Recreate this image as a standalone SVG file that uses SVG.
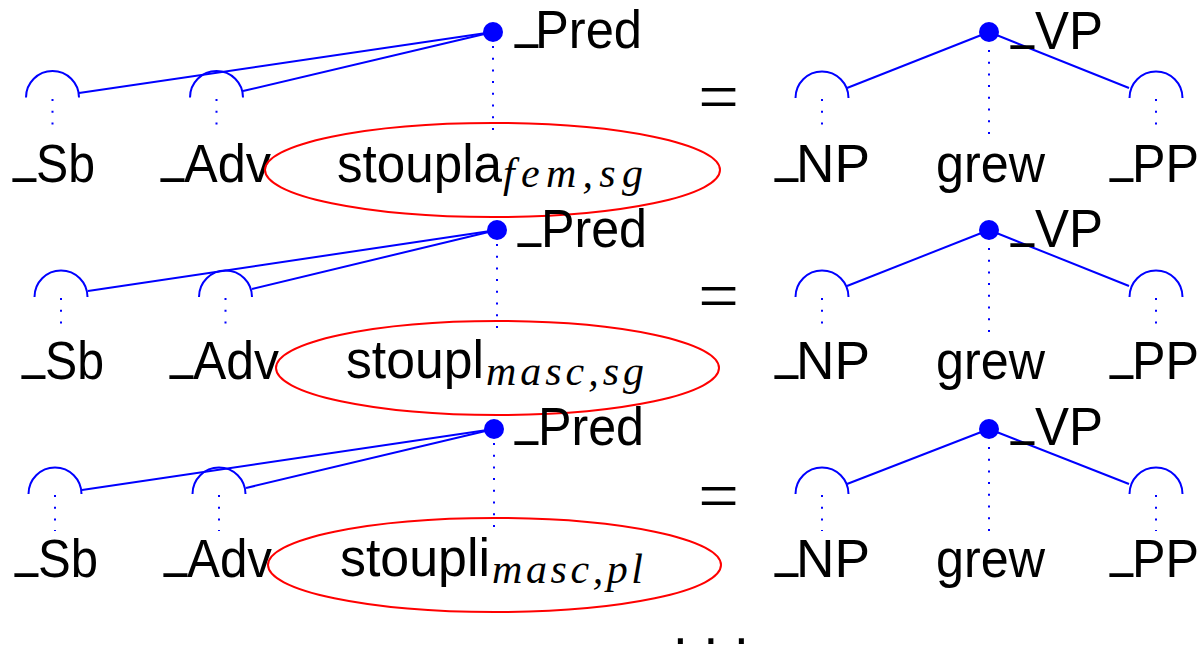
<svg xmlns="http://www.w3.org/2000/svg" width="1204" height="645" viewBox="0 0 1204 645">
<style>
.t{font-family:"Liberation Sans",Arial,sans-serif;font-size:53px;fill:#000}
.u{font-size:60px}
.s{font-family:"Liberation Serif","Times New Roman",serif;font-style:italic;font-size:42px;fill:#000}
.eq{font-family:"Liberation Serif","Times New Roman",serif;font-size:72px;fill:#000;text-anchor:middle}
.arc{fill:none;stroke:#0000ff;stroke-width:2}
.dot{fill:#0000ff}
.edge{stroke:#0000ff;stroke-width:2;fill:none}
.dots{stroke:#0000ff;stroke-width:2;stroke-dasharray:2 9.7;fill:none}
.ell{fill:none;stroke:#ff0000;stroke-width:2}
</style>
<rect width="1204" height="645" fill="#fff"/>
<g id="connectors">
  <line class="edge" x1="79" y1="93" x2="493" y2="32"/>
  <line class="edge" x1="243" y1="91" x2="493" y2="32"/>
  <line class="edge" x1="847" y1="88" x2="989" y2="32"/>
  <line class="edge" x1="989" y1="32" x2="1129" y2="88"/>
  <line class="dots" x1="52.5" y1="99" x2="52.5" y2="134"/>
  <line class="dots" x1="216.5" y1="99" x2="216.5" y2="134"/>
  <line class="dots" x1="493" y1="46" x2="493" y2="134"/>
  <line class="dots" x1="822" y1="99" x2="822" y2="134"/>
  <line class="dots" x1="989" y1="50" x2="989" y2="134"/>
  <line class="dots" x1="1156" y1="99" x2="1156" y2="134"/>

  <line class="edge" x1="88" y1="291" x2="497" y2="230"/>
  <line class="edge" x1="252" y1="289" x2="497" y2="230"/>
  <line class="edge" x1="847" y1="286" x2="989" y2="230"/>
  <line class="edge" x1="989" y1="230" x2="1129" y2="286"/>
  <line class="dots" x1="61" y1="298" x2="61" y2="333"/>
  <line class="dots" x1="225.5" y1="298" x2="225.5" y2="333"/>
  <line class="dots" x1="497" y1="244" x2="497" y2="333"/>
  <line class="dots" x1="822" y1="298" x2="822" y2="333"/>
  <line class="dots" x1="989" y1="248" x2="989" y2="333"/>
  <line class="dots" x1="1156" y1="298" x2="1156" y2="333"/>

  <line class="edge" x1="82" y1="490" x2="494" y2="429"/>
  <line class="edge" x1="246" y1="488" x2="494" y2="429"/>
  <line class="edge" x1="847" y1="484" x2="989" y2="429"/>
  <line class="edge" x1="989" y1="429" x2="1129" y2="484"/>
  <line class="dots" x1="55" y1="495" x2="55" y2="531"/>
  <line class="dots" x1="219" y1="495" x2="219" y2="531"/>
  <line class="dots" x1="494" y1="443" x2="494" y2="531"/>
  <line class="dots" x1="822" y1="495" x2="822" y2="531"/>
  <line class="dots" x1="989" y1="447" x2="989" y2="531"/>
  <line class="dots" x1="1156" y1="495" x2="1156" y2="531"/>
</g>

<!-- Row 1 -->
<g id="r1-sb">
  <path class="arc" d="M26,97.5 A26.5,26.5 0 0 1 79,97.5"/>
  <text class="t" y="182"><tspan class="u" x="13" dy="-12" textLength="23" lengthAdjust="spacingAndGlyphs">_</tspan><tspan x="36" dy="12" textLength="59" lengthAdjust="spacingAndGlyphs">Sb</tspan></text>
</g>
<g id="r1-adv">
  <path class="arc" d="M190,97.5 A26.5,26.5 0 0 1 243,97.5"/>
  <text class="t" y="182"><tspan class="u" x="161" dy="-12" textLength="23" lengthAdjust="spacingAndGlyphs">_</tspan><tspan x="184" dy="12" textLength="87" lengthAdjust="spacingAndGlyphs">Adv</tspan></text>
</g>
<g id="r1-pred">
  <circle class="dot" cx="493" cy="32" r="10"/>
  <text class="t" y="48"><tspan class="u" x="515" dy="-12" textLength="23" lengthAdjust="spacingAndGlyphs">_</tspan><tspan x="535" dy="12" textLength="107" lengthAdjust="spacingAndGlyphs">Pred</tspan></text>
</g>
<g id="r1-word">
  <ellipse class="ell" cx="492.5" cy="170" rx="227.5" ry="47"/>
  <text class="t" y="182"><tspan x="337" textLength="165" lengthAdjust="spacingAndGlyphs">stoupla</tspan><tspan class="s" x="503" dy="5" textLength="140">fem,sg</tspan></text>
</g>
<g id="r1-eq"><text class="eq" x="718.5" y="121">=</text></g>
<g id="r1-vp">
  <circle class="dot" cx="989" cy="32" r="10"/>
  <text class="t" y="49"><tspan class="u" x="1011" dy="-12" textLength="23" lengthAdjust="spacingAndGlyphs">_</tspan><tspan x="1035" dy="12" textLength="68" lengthAdjust="spacingAndGlyphs">VP</tspan></text>
</g>
<g id="r1-np">
  <path class="arc" d="M795.5,98 A26.5,26.5 0 0 1 848.5,98"/>
  <text class="t" y="182"><tspan class="u" x="775" dy="-12" textLength="23" lengthAdjust="spacingAndGlyphs">_</tspan><tspan x="796" dy="12" textLength="74" lengthAdjust="spacingAndGlyphs">NP</tspan></text>
</g>
<g id="r1-grew">
  <text class="t" x="936" y="182" textLength="109" lengthAdjust="spacingAndGlyphs">grew</text>
</g>
<g id="r1-pp">
  <path class="arc" d="M1129.5,98 A26.5,26.5 0 0 1 1182.5,98"/>
  <text class="t" y="182"><tspan class="u" x="1110" dy="-12" textLength="23" lengthAdjust="spacingAndGlyphs">_</tspan><tspan x="1132" dy="12" textLength="67" lengthAdjust="spacingAndGlyphs">PP</tspan></text>
</g>

<!-- Row 2 -->
<g id="r2-sb">
  <path class="arc" d="M34.5,297 A26.5,26.5 0 0 1 87.5,297"/>
  <text class="t" y="379"><tspan class="u" x="22" dy="-12" textLength="23" lengthAdjust="spacingAndGlyphs">_</tspan><tspan x="45" dy="12" textLength="59" lengthAdjust="spacingAndGlyphs">Sb</tspan></text>
</g>
<g id="r2-adv">
  <path class="arc" d="M199,297 A26.5,26.5 0 0 1 252,297"/>
  <text class="t" y="379"><tspan class="u" x="170" dy="-12" textLength="23" lengthAdjust="spacingAndGlyphs">_</tspan><tspan x="193" dy="12" textLength="86" lengthAdjust="spacingAndGlyphs">Adv</tspan></text>
</g>
<g id="r2-pred">
  <circle class="dot" cx="497" cy="230" r="10"/>
  <text class="t" y="247"><tspan class="u" x="518" dy="-12" textLength="23" lengthAdjust="spacingAndGlyphs">_</tspan><tspan x="541" dy="12" textLength="106" lengthAdjust="spacingAndGlyphs">Pred</tspan></text>
</g>
<g id="r2-word">
  <ellipse class="ell" cx="497.5" cy="368" rx="221.5" ry="47"/>
  <text class="t" y="378"><tspan x="346" textLength="138" lengthAdjust="spacingAndGlyphs">stoupl</tspan><tspan class="s" x="486" dy="7" textLength="158">masc,sg</tspan></text>
</g>
<g id="r2-eq"><text class="eq" x="718.5" y="320">=</text></g>
<g id="r2-vp">
  <circle class="dot" cx="989" cy="230" r="10"/>
  <text class="t" y="247"><tspan class="u" x="1011" dy="-12" textLength="23" lengthAdjust="spacingAndGlyphs">_</tspan><tspan x="1035" dy="12" textLength="68" lengthAdjust="spacingAndGlyphs">VP</tspan></text>
</g>
<g id="r2-np">
  <path class="arc" d="M795.5,297 A26.5,26.5 0 0 1 848.5,297"/>
  <text class="t" y="379"><tspan class="u" x="775" dy="-12" textLength="23" lengthAdjust="spacingAndGlyphs">_</tspan><tspan x="796" dy="12" textLength="74" lengthAdjust="spacingAndGlyphs">NP</tspan></text>
</g>
<g id="r2-grew">
  <text class="t" x="936" y="379" textLength="109" lengthAdjust="spacingAndGlyphs">grew</text>
</g>
<g id="r2-pp">
  <path class="arc" d="M1129.5,297 A26.5,26.5 0 0 1 1182.5,297"/>
  <text class="t" y="379"><tspan class="u" x="1110" dy="-12" textLength="23" lengthAdjust="spacingAndGlyphs">_</tspan><tspan x="1132" dy="12" textLength="67" lengthAdjust="spacingAndGlyphs">PP</tspan></text>
</g>

<!-- Row 3 -->
<g id="r3-sb">
  <path class="arc" d="M28.5,494 A26.5,26.5 0 0 1 81.5,494"/>
  <text class="t" y="577"><tspan class="u" x="15" dy="-12" textLength="23" lengthAdjust="spacingAndGlyphs">_</tspan><tspan x="38" dy="12" textLength="60" lengthAdjust="spacingAndGlyphs">Sb</tspan></text>
</g>
<g id="r3-adv">
  <path class="arc" d="M192.5,494 A26.5,26.5 0 0 1 245.5,494"/>
  <text class="t" y="577"><tspan class="u" x="164" dy="-12" textLength="23" lengthAdjust="spacingAndGlyphs">_</tspan><tspan x="187" dy="12" textLength="85" lengthAdjust="spacingAndGlyphs">Adv</tspan></text>
</g>
<g id="r3-pred">
  <circle class="dot" cx="494" cy="429" r="10"/>
  <text class="t" y="445"><tspan class="u" x="515" dy="-12" textLength="23" lengthAdjust="spacingAndGlyphs">_</tspan><tspan x="538" dy="12" textLength="106" lengthAdjust="spacingAndGlyphs">Pred</tspan></text>
</g>
<g id="r3-word">
  <ellipse class="ell" cx="494.5" cy="565" rx="226.5" ry="47"/>
  <text class="t" y="576"><tspan x="340" textLength="150" lengthAdjust="spacingAndGlyphs">stoupli</tspan><tspan class="s" x="492" dy="7" textLength="151">masc,pl</tspan></text>
</g>
<g id="r3-eq"><text class="eq" x="718.5" y="520">=</text></g>
<g id="r3-vp">
  <circle class="dot" cx="989" cy="429" r="10"/>
  <text class="t" y="445"><tspan class="u" x="1011" dy="-12" textLength="23" lengthAdjust="spacingAndGlyphs">_</tspan><tspan x="1035" dy="12" textLength="68" lengthAdjust="spacingAndGlyphs">VP</tspan></text>
</g>
<g id="r3-np">
  <path class="arc" d="M795.5,494 A26.5,26.5 0 0 1 848.5,494"/>
  <text class="t" y="577"><tspan class="u" x="775" dy="-12" textLength="23" lengthAdjust="spacingAndGlyphs">_</tspan><tspan x="796" dy="12" textLength="74" lengthAdjust="spacingAndGlyphs">NP</tspan></text>
</g>
<g id="r3-grew">
  <text class="t" x="936" y="577" textLength="109" lengthAdjust="spacingAndGlyphs">grew</text>
</g>
<g id="r3-pp">
  <path class="arc" d="M1129.5,494 A26.5,26.5 0 0 1 1182.5,494"/>
  <text class="t" y="577"><tspan class="u" x="1110" dy="-12" textLength="23" lengthAdjust="spacingAndGlyphs">_</tspan><tspan x="1132" dy="12" textLength="67" lengthAdjust="spacingAndGlyphs">PP</tspan></text>
</g>

<g id="ellipsis">
  <text class="t" x="673" y="644" letter-spacing="15.8">...</text>
</g>
</svg>
